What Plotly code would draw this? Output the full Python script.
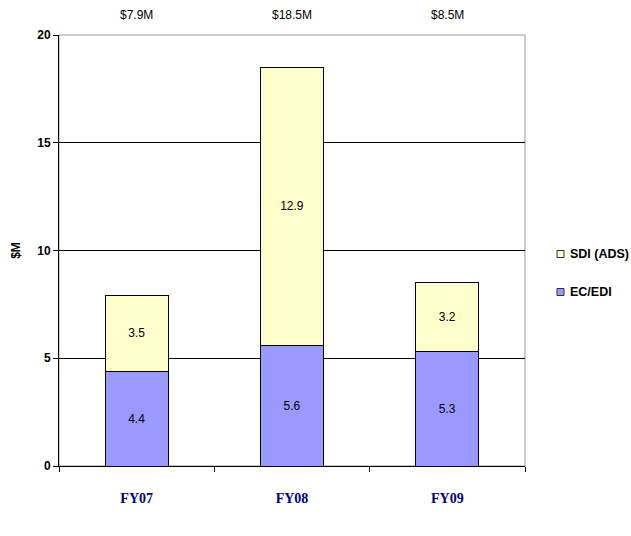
import plotly.graph_objects as go

categories = ["FY07", "FY08", "FY09"]
ec_edi = [4.4, 5.6, 5.3]
sdi_ads = [3.5, 12.9, 3.2]
totals = [7.9, 18.5, 8.5]
y_ticks = [0, 5, 10, 15, 20]
series_names = ["EC/EDI", "SDI (ADS)"]
series_colors = ["#9999FF", "#FFFFCC"]

W, H = 631, 536
X0, X1 = 59, 525
T, B = 35, 70

fig = go.Figure()
for name, vals, col in zip(series_names, [ec_edi, sdi_ads], series_colors):
    fig.add_trace(go.Bar(
        x=categories, y=vals, name=name, showlegend=False,
        marker=dict(color=col, line=dict(color="black", width=1)),
        text=[f"{v:.1f}" for v in vals], textposition="inside", insidetextanchor="middle",
        insidetextfont=dict(family="Arial", size=12, color="black"), width=0.406,
    ))

for c, t in zip(categories, totals):
    fig.add_annotation(x=c, y=1, xref="x", yref="paper", yanchor="bottom", yshift=11,
                       text=f"${t}M", showarrow=False,
                       font=dict(family="Arial", size=12, color="black"))

fig.add_shape(type="rect", xref="paper", yref="paper", x0=X0 / W, y0=0, x1=X1 / W, y1=1,
              line=dict(color="#999999", width=1), layer="below")

# legend (drawn manually so it sits exactly like the reference)
ph = H - T - B
legend_rows = [("SDI (ADS)", "#FFFFCC", 254), ("EC/EDI", "#9999FF", 292)]
for name, col, yc in legend_rows:
    yp = (H - B - yc) / ph
    fig.add_shape(type="rect", xref="paper", yref="paper",
                  x0=557 / W, x1=564 / W, y0=yp - 3.5 / ph, y1=yp + 3.5 / ph,
                  fillcolor=col, line=dict(color="#333333", width=1))
    fig.add_annotation(x=568 / W, y=yp, xref="paper", yref="paper", xanchor="left", yanchor="middle",
                       text=f"<b>{name}</b>", showarrow=False,
                       font=dict(family="Arial", size=12.5, color="black"))

fig.update_layout(
    barmode="stack", width=W, height=H,
    margin=dict(l=0, r=0, t=T, b=B, autoexpand=False),
    plot_bgcolor="white", paper_bgcolor="white",
    showlegend=False,
    xaxis=dict(domain=[X0 / W, X1 / W], showline=True, linecolor="black", linewidth=1,
               ticks="outside", tickson="boundaries", ticklen=5, tickcolor="black",
               ticklabelstandoff=19,
               tickfont=dict(family="Times New Roman, Liberation Serif", size=14, color="#000080", weight="bold")),
    yaxis=dict(range=[0, 20], tickvals=y_ticks, showline=True, linecolor="black", linewidth=1,
               ticks="outside", ticklen=5, tickcolor="black", showgrid=True, gridcolor="black", gridwidth=1,
               zeroline=False,
               tickfont=dict(family="Arial", size=12, color="black", weight="bold"),
               title=dict(text="$M", font=dict(family="Arial", size=12, color="black", weight="bold"), standoff=14)),
)

fig.write_html("out.html", config={"displayModeBar": False},
               post_script="document.body.style.margin='0';document.body.style.overflow='hidden';")
